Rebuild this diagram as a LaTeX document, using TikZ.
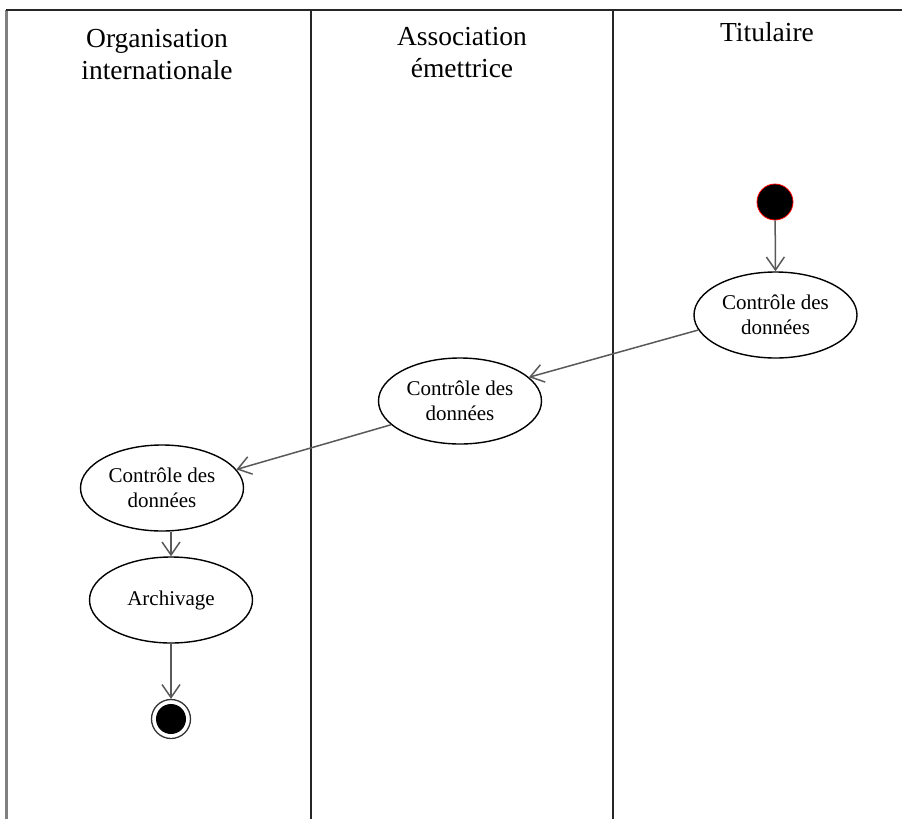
\documentclass[tikz,border=0pt]{standalone}
\usepackage{fontspec}
\setmainfont{Liberation Serif}
\usetikzlibrary{shapes.geometric,arrows.meta}
\tikzset{
  lane/.style={line width=2pt, draw=black!85},
  header/.style={font=\fontsize{27.5pt}{32pt}\selectfont, align=center, anchor=north, inner sep=0pt},
  activity/.style={ellipse, draw=black, line width=1.4pt, minimum width=163pt, minimum height=86pt, inner sep=0pt, align=center, font=\fontsize{21pt}{25pt}\selectfont},
  flow/.style={draw=black!65, line width=1.5pt, -{Straight Barb[length=13pt,width=18pt,line width=1.5pt]}},
  startnode/.style={circle, fill=black, draw=red, line width=0.8pt, minimum size=36pt, inner sep=0pt},
  endnode/.style={circle, draw=black!80, line width=1.3pt, minimum size=39pt, inner sep=0pt,
    path picture={\fill[black] (path picture bounding box.center) circle (15pt);}}
}
\begin{document}
\begin{tikzpicture}[x=1pt,y=-1pt]
\useasboundingbox (0,0) rectangle (902,819);
% swimlanes
\coordinate (tl) at (6,10);
\coordinate (tr) at (902,10);
\coordinate (bl) at (6,819);
\coordinate (d1t) at (311,10);
\coordinate (d1b) at (311,819);
\coordinate (d2t) at (613,10);
\coordinate (d2b) at (613,819);
\draw[line width=3pt, draw=black!50] (tl) -- (bl);
\draw[lane] (tl) -- (tr);
\draw[lane] (d1t) -- (d1b);
\draw[lane] (d2t) -- (d2b);
% headers
\node[header] (h1) at (157,29) {Organisation\\internationale};
\node[header] (h2) at (462,27) {Association\\émettrice};
\node[header] (h3) at (767,22) {Titulaire};
% nodes
\node[startnode] (init) at (775,202) {};
\node[activity] (e1) at (775.5,315) {Contrôle des\\données};
\node[activity] (e2) at (460,401) {Contrôle des\\données};
\node[activity] (e3) at (162,488) {Contrôle des\\données};
\node[activity] (arch) at (171,600) {Archivage};
\node[endnode] (fin) at (171,719) {};
% flows
\draw[flow] (init) -- (e1.north);
\draw[flow] (e1.191) -- (e2.19);
\draw[flow] (e2.199) -- (e3.14);
\draw[flow] (arch.north |- e3.south) -- (arch.north);
\draw[flow] (arch.south) -- (fin.north);
\end{tikzpicture}
\end{document}
